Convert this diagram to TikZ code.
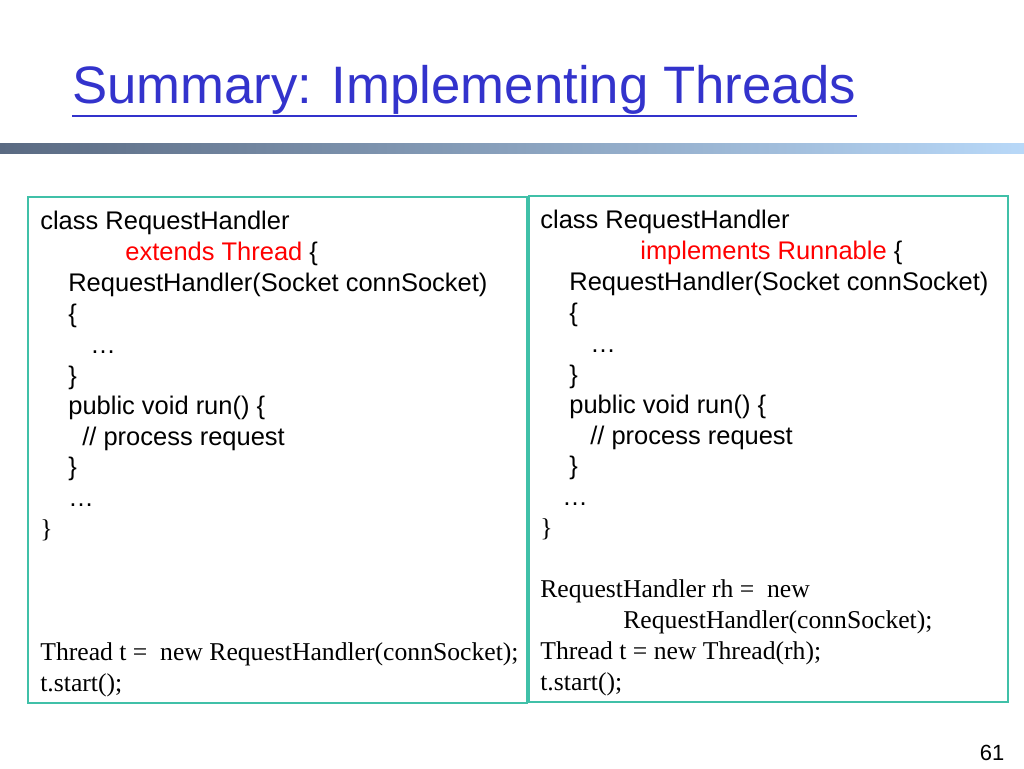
\documentclass[tikz,border=0pt]{standalone}
\usepackage{fontspec}
\setmainfont{Liberation Serif}
\newfontfamily\codesans{Liberation Sans}
\usepackage{xcolor}
\definecolor{titleblue}{HTML}{3333CC}
\definecolor{boxteal}{HTML}{40C0A8}
\definecolor{barleft}{HTML}{5A6A82}
\definecolor{barright}{HTML}{B8D8F8}
\definecolor{kwred}{HTML}{FF0000}
\tikzset{
  sline/.style={anchor=base west, inner sep=0pt, font=\codesans\fontsize{14.5}{17}\selectfont},
  rline/.style={anchor=base west, inner sep=0pt, font=\fontsize{14.6}{17}\selectfont},
  codebox/.style={draw=boxteal, line width=0.8pt}
}
\begin{document}
\begin{tikzpicture}[x=0.02cm, y=-0.02cm]
  \useasboundingbox (0,0) rectangle (1024,768);
  % title and bar
  \node[anchor=west, inner sep=0pt, text=titleblue, font=\codesans\fontsize{30}{35}\selectfont] (title) at (72,90) {Summary: Implementing Threads};
  \draw[titleblue, line width=0.8pt] (72,116) -- (857,116);
  \shade[left color=barleft, right color=barright] (0,143) rectangle (1024,153);
  % boxes
  \draw[codebox] (28,197) rectangle (527,703);
  \draw[codebox] (529,196) rectangle (1008,702);
  % left: extends Thread
  \node[sline] (l1) at (40,229) {class RequestHandler};
  \node[sline] (l2) at (125,260) {\textcolor{kwred}{extends Thread} \{};
  \node[sline] (l3) at (68,291) {RequestHandler(Socket connSocket)};
  \node[sline] (l4) at (68,322) {\{};
  \node[sline] (l5) at (90,353) {…};
  \node[sline] (l6) at (68,384) {\}};
  \node[sline] (l7) at (68,414) {public void run() \{};
  \node[sline] (l8) at (82,445) {// process request};
  \node[sline] (l9) at (68,475) {\}};
  \node[sline] (l10) at (68,506) {…};
  \node[rline] (l11) at (40,537) {\}};
  \node[rline] (l12) at (40,660) {Thread t =\ \ new RequestHandler(connSocket);};
  \node[rline] (l13) at (40,691) {t.start();};
  % right: implements Runnable
  \node[sline] (r1) at (540,228) {class RequestHandler};
  \node[sline] (r2) at (640,259) {\textcolor{kwred}{implements Runnable} \{};
  \node[sline] (r3) at (569,290) {RequestHandler(Socket connSocket)};
  \node[sline] (r4) at (569,321) {\{};
  \node[sline] (r5) at (590,352) {…};
  \node[sline] (r6) at (569,383) {\}};
  \node[sline] (r7) at (569,413) {public void run() \{};
  \node[sline] (r8) at (590,444) {// process request};
  \node[sline] (r9) at (569,474) {\}};
  \node[sline] (r10) at (562,505) {…};
  \node[rline] (r11) at (540,536) {\}};
  \node[rline] (r12) at (540,597) {RequestHandler rh =\ \ new};
  \node[rline] (r13) at (623,628) {RequestHandler(connSocket);};
  \node[rline] (r14) at (540,659) {Thread t = new Thread(rh);};
  \node[rline] (r15) at (540,690) {t.start();};
  % page number
  \node[inner sep=0pt, font=\codesans\fontsize{12.5}{14}\selectfont] (pagenum) at (992,753) {61};
\end{tikzpicture}
\end{document}
